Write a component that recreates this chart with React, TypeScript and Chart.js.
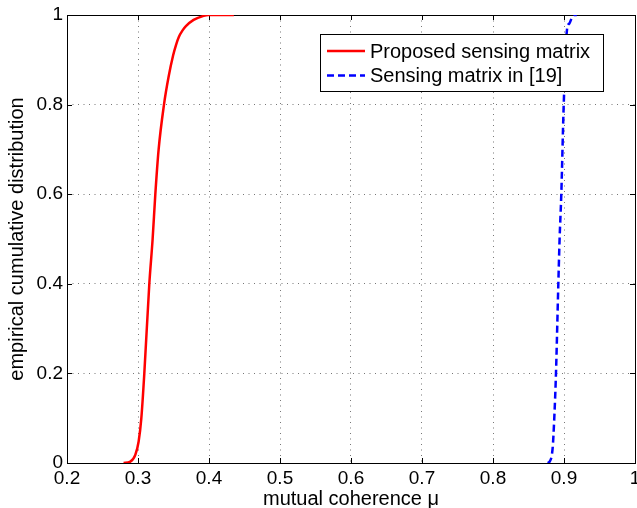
import React, { useEffect, useRef } from "react";
import { Chart, registerables } from "chart.js";

Chart.register(...registerables);

const proposedX = [0.2797, 0.2892, 0.2962, 0.3009, 0.3047, 0.3089, 0.3159, 0.3206, 0.3244, 0.329, 0.3366, 0.3431, 0.3495, 0.3535, 0.3575, 0.3625, 0.3675, 0.3783, 0.3924, 0.399, 0.435];
const proposedY = [0, 0.003, 0.018, 0.048, 0.1, 0.2, 0.399, 0.5, 0.6, 0.699, 0.8, 0.862, 0.91, 0.933, 0.951, 0.965, 0.975, 0.989, 0.998, 1, 1];
const refX = [0.877, 0.8797, 0.884, 0.8863, 0.8887, 0.892, 0.8938, 0.8962, 0.8995, 0.9042, 0.9075, 0.9135, 0.918];
const refY = [0, 0.003, 0.033, 0.1, 0.2, 0.399, 0.5, 0.6, 0.795, 0.967, 0.981, 1, 1];
const seriesLabels = ["Proposed sensing matrix", "Sensing matrix in [19]"];
const xTicks = [0.2, 0.3, 0.4, 0.5, 0.6, 0.7, 0.8, 0.9, 1];
const yTicks = [0, 0.2, 0.4, 0.6, 0.8, 1];

const FONT = "'Liberation Sans', Arial, sans-serif";

const frame = {
  id: "frame",
  beforeDatasetsDraw(chart: any) {
    const { ctx, chartArea: a, scales } = chart;
    ctx.save();
    ctx.strokeStyle = "#000";
    ctx.lineWidth = 1;
    const tl = 5;
    xTicks.forEach((v) => {
      const x = Math.round(scales.x.getPixelForValue(v)) + 0.5;
      ctx.beginPath();
      ctx.moveTo(x, a.bottom);
      ctx.lineTo(x, a.bottom - tl);
      ctx.moveTo(x, a.top);
      ctx.lineTo(x, a.top + tl);
      ctx.stroke();
    });
    yTicks.forEach((v) => {
      const y = Math.round(scales.y.getPixelForValue(v)) + 0.5;
      ctx.beginPath();
      ctx.moveTo(a.left, y);
      ctx.lineTo(a.left + tl, y);
      ctx.moveTo(a.right, y);
      ctx.lineTo(a.right - tl, y);
      ctx.stroke();
    });
    ctx.strokeRect(Math.round(a.left) + 0.5, Math.round(a.top) + 0.5, Math.round(a.right - a.left), Math.round(a.bottom - a.top));
    ctx.restore();
  },
  afterDatasetsDraw(chart: any) {
    const { ctx, chartArea: a } = chart;
    ctx.save();
    const bx = Math.round(a.right - 315);
    const by = Math.round(a.top + 19);
    const bw = 283;
    const bh = 57;
    ctx.fillStyle = "#fff";
    ctx.fillRect(bx, by, bw, bh);
    ctx.strokeStyle = "#000";
    ctx.lineWidth = 1;
    ctx.strokeRect(bx + 0.5, by + 0.5, bw, bh);
    ctx.font = `20px ${FONT}`;
    ctx.textBaseline = "middle";
    chart.data.datasets.forEach((ds: any, i: number) => {
      const y = by + 17 + i * 24.5;
      ctx.strokeStyle = ds.borderColor;
      ctx.lineWidth = 2.5;
      ctx.setLineDash(ds.borderDash || []);
      ctx.beginPath();
      ctx.moveTo(bx + 7, y);
      ctx.lineTo(bx + 45, y);
      ctx.stroke();
      ctx.setLineDash([]);
      ctx.fillStyle = "#000";
      ctx.fillText(ds.label, bx + 50, y + 1);
    });
    ctx.restore();
  },
};

export default function App() {
  const ref = useRef<HTMLCanvasElement>(null);
  useEffect(() => {
    document.body.style.margin = "0";
    const c = new Chart(ref.current!, {
      type: "scatter",
      data: {
        datasets: [
          {
            label: seriesLabels[0],
            data: proposedX.map((x, i) => ({ x, y: proposedY[i] })),
            showLine: true,
            borderColor: "#ff0000",
            borderWidth: 2.5,
            pointRadius: 0,
            cubicInterpolationMode: "monotone",
          },
          {
            label: seriesLabels[1],
            data: refX.map((x, i) => ({ x, y: refY[i] })),
            showLine: true,
            borderColor: "#0000ff",
            borderWidth: 2.5,
            borderDash: [7, 4],
            pointRadius: 0,
            cubicInterpolationMode: "monotone",
          },
        ],
      },
      options: {
        responsive: false,
        animation: false,
        layout: { padding: { top: 15, right: 2, left: 0, bottom: 0 } },
        plugins: { legend: { display: false }, tooltip: { enabled: false } },
        scales: {
          x: {
            type: "linear",
            min: 0.2,
            max: 1,
            afterBuildTicks: (s: any) => {
              s.ticks = xTicks.map((v) => ({ value: v }));
            },
            afterFit: (s: any) => {
              s.height = 45;
              s.paddingLeft = 0;
              s.paddingRight = 0;
            },
            ticks: {
              color: "#000",
              font: { family: FONT, size: 19 },
              padding: 4,
              maxRotation: 0,
              callback: (v: any) => String(v),
            },
            grid: {
              color: "#777",
              lineWidth: 1,
              tickLength: 0,
              drawTicks: false,
            },
            border: { display: false, dash: [1, 4.5] },
            title: {
              display: true,
              text: "mutual coherence μ",
              color: "#000",
              font: { family: FONT, size: 20, lineHeight: 0.9 },
              padding: { top: 0, bottom: 0 },
            },
          },
          y: {
            type: "linear",
            min: 0,
            max: 1,
            afterBuildTicks: (s: any) => {
              s.ticks = yTicks.map((v) => ({ value: v }));
            },
            afterFit: (s: any) => {
              s.width = 67;
              s.paddingTop = 0;
              s.paddingBottom = 0;
            },
            ticks: {
              color: "#000",
              font: { family: FONT, size: 19 },
              padding: 4,
              callback: (v: any) => String(v),
            },
            grid: {
              color: "#777",
              lineWidth: 1,
              tickLength: 0,
              drawTicks: false,
            },
            border: { display: false, dash: [1, 4.5] },
            title: {
              display: true,
              text: "empirical cumulative distribution",
              color: "#000",
              font: { family: FONT, size: 20 },
              padding: { top: 5, bottom: 0 },
            },
          },
        },
      },
      plugins: [frame],
    } as any);
    return () => c.destroy();
  }, []);
  return <canvas ref={ref} width={637} height={508} />;
}
